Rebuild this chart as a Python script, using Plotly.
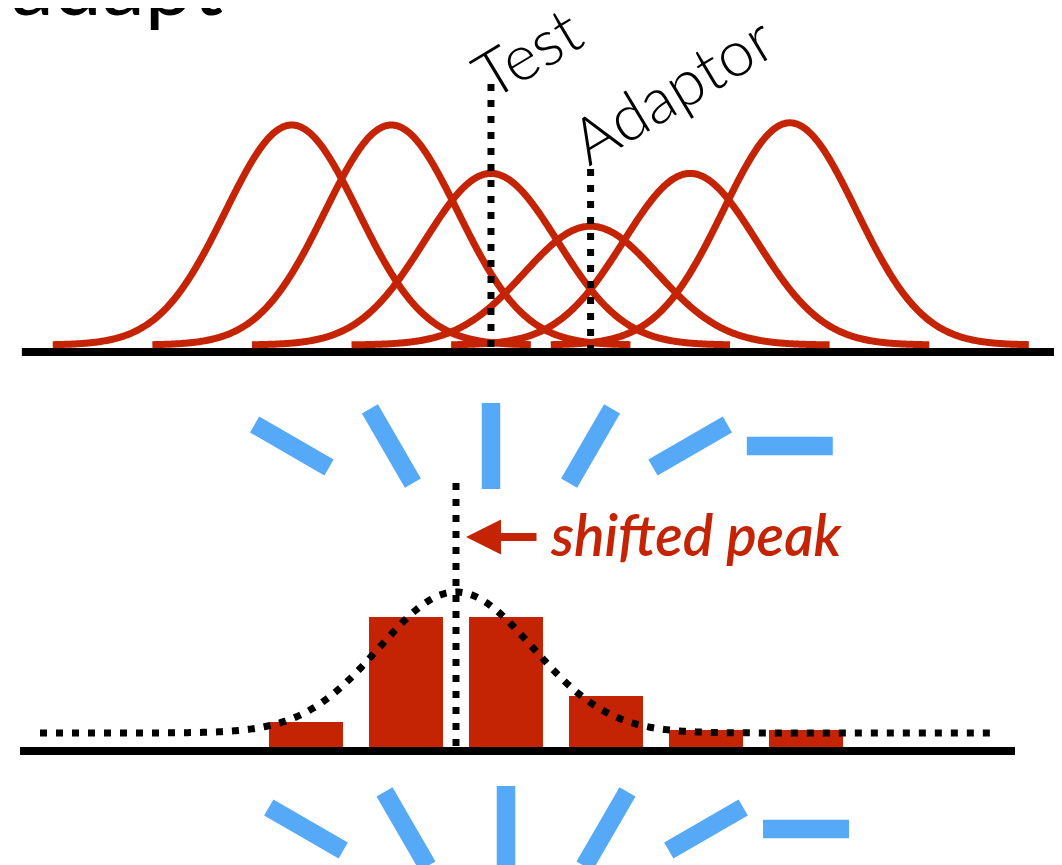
import numpy as np
import plotly.graph_objects as go

# ---------------- data ----------------
# preferred orientations of the six neurons (deg from vertical, +ve = clockwise)
pref_ori = [-60, -30, 0, 30, 60, 90]
# peak responses of the adapted tuning curves (top panel)
tuning_amp = [1.0, 1.0, 0.78, 0.54, 0.78, 1.01]
tuning_sigma = 20      # deg
tuning_halfspan = 72   # deg drawn each side of the peak

# population response to the test stimulus (bottom panel)
bar_resp = [0.20, 1.0, 1.0, 0.40, 0.14, 0.14]
bar_width = 22         # deg

# decoded (shifted) population estimate
decoded_peak = -15
decoded_amp = 1.076
decoded_offset = 0.115
decoded_sigma = 23
decoded_span = [-139.8, 146.4]

test_ori = 0
adaptor_ori = 30

RED = "#C42304"
BLUE = "#55A9F6"
BLACK = "#000000"
DOT = "7px,9px"

fig = go.Figure()

# ---------------- top panel ----------------
fig.add_trace(go.Scatter(x=[-141.3, 170.8], y=[-0.032, -0.032], mode="lines",
                         line=dict(color=BLACK, width=8), xaxis="x", yaxis="y",
                         hoverinfo="skip"))
for c, a in zip(pref_ori, tuning_amp):
    th = np.linspace(c - tuning_halfspan, c + tuning_halfspan, 400)
    fig.add_trace(go.Scatter(x=th, y=a * np.exp(-(th - c) ** 2 / (2 * tuning_sigma ** 2)),
                             mode="lines", line=dict(color=RED, width=7, simplify=False),
                             xaxis="x", yaxis="y", hoverinfo="skip"))
fig.add_trace(go.Scatter(x=[test_ori, test_ori], y=[1.186, -0.045], mode="lines",
                         line=dict(color=BLACK, width=7, dash=DOT),
                         xaxis="x", yaxis="y", hoverinfo="skip"))
fig.add_trace(go.Scatter(x=[adaptor_ori, adaptor_ori], y=[0.80, -0.023], mode="lines",
                         line=dict(color=BLACK, width=7, dash=DOT),
                         xaxis="x", yaxis="y", hoverinfo="skip"))

# stimulus sticks, top row
fig.add_trace(go.Scatter(x=pref_ori, y=[-0.459] * len(pref_ori), mode="markers",
                         marker=dict(symbol="line-ns", size=61.4, angle=pref_ori,
                                     line=dict(color=BLUE, width=18.5)),
                         xaxis="x", yaxis="y", hoverinfo="skip"))

# ---------------- bottom panel ----------------
fig.add_trace(go.Bar(x=pref_ori, y=bar_resp, width=bar_width,
                     marker=dict(color=RED, line=dict(width=0)),
                     xaxis="x2", yaxis="y2", hoverinfo="skip"))
fig.add_trace(go.Scatter(x=[-145.8, 152.7], y=[-0.023, -0.023], mode="lines",
                         line=dict(color=BLACK, width=8), xaxis="x2", yaxis="y2",
                         hoverinfo="skip"))
th = np.linspace(decoded_span[0], decoded_span[1], 600)
fig.add_trace(go.Scatter(x=th,
                         y=decoded_offset + decoded_amp * np.exp(-(th - decoded_peak) ** 2 / (2 * decoded_sigma ** 2)),
                         mode="lines", line=dict(color=BLACK, width=7, dash=DOT, simplify=False),
                         xaxis="x2", yaxis="y2", hoverinfo="skip"))
fig.add_trace(go.Scatter(x=[decoded_peak, decoded_peak], y=[2.023, -0.053], mode="lines",
                         line=dict(color=BLACK, width=7, dash=DOT),
                         xaxis="x2", yaxis="y2", hoverinfo="skip"))
fig.add_trace(go.Scatter(x=pref_ori, y=[-0.618] * len(pref_ori), mode="markers",
                         marker=dict(symbol="line-ns", size=61.4, angle=pref_ori,
                                     line=dict(color=BLUE, width=18.5)),
                         xaxis="x2", yaxis="y2", hoverinfo="skip"))

annotations = [
    dict(text="adapt", xref="paper", yref="paper", x=1 / 1062, y=1 - 27 / 865,
         xanchor="left", yanchor="bottom", showarrow=False,
         font=dict(family="Lato", size=86, color=BLACK, weight=400)),
    dict(text="Test", xref="x", yref="y", x=10.8, y=1.332, textangle=-31,
         xanchor="center", yanchor="middle", showarrow=False,
         font=dict(family="Lato", size=64, color=BLACK, weight=300)),
    dict(text="Adaptor", xref="x", yref="y", x=54.5, y=1.168, textangle=-31,
         xanchor="center", yanchor="middle", showarrow=False,
         font=dict(family="Lato", size=64, color=BLACK, weight=300)),
    dict(text="", xref="x2", yref="y2", x=-12, y=1.611, ax=9.6, ay=1.611,
         axref="x2", ayref="y2", showarrow=True, arrowhead=2, arrowsize=0.875,
         arrowwidth=8, arrowcolor=RED, standoff=0, startstandoff=0),
    dict(text="<i>shifted peak</i>", xref="x2", yref="y2", x=12.6, y=1.634,
         xanchor="left", yanchor="middle", showarrow=False,
         font=dict(family="Lato", size=57, color=RED, weight=600)),
]

fig.update_layout(
    width=1062, height=865,
    margin=dict(l=0, r=0, t=0, b=0),
    paper_bgcolor="white", plot_bgcolor="white",
    showlegend=False,
    xaxis=dict(range=[-145.48, 174.40], visible=False, domain=[0, 1]),
    xaxis2=dict(range=[-149.4, 169.2], visible=False, overlaying="x"),
    yaxis=dict(range=[-2.4, 1.5318], visible=False, domain=[0, 1]),
    yaxis2=dict(range=[-0.954, 5.649], visible=False, overlaying="y"),
    annotations=annotations,
    bargap=0,
)

fig.write_html("out.html")
